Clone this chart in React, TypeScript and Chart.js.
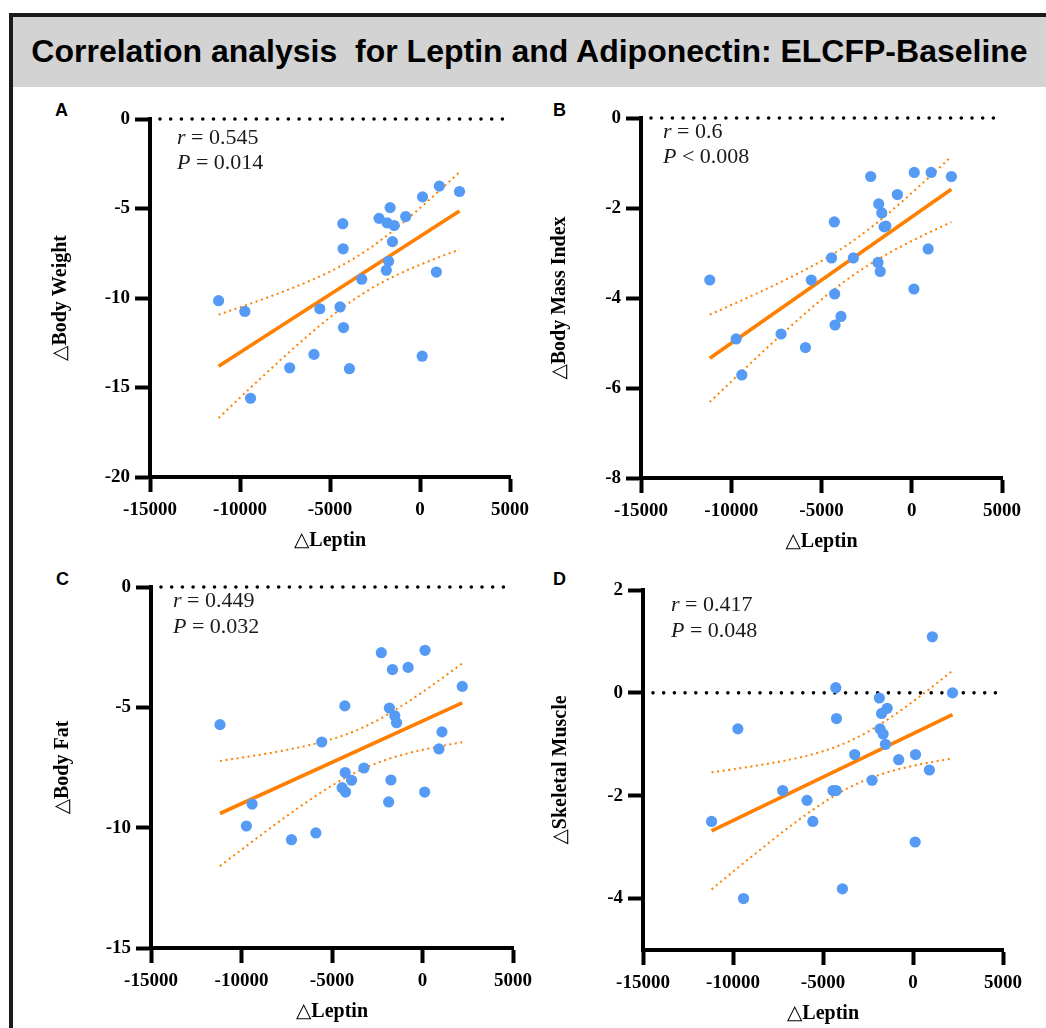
import React, { useEffect, useRef } from 'react';
import { Chart, registerables } from 'chart.js';

Chart.register(...registerables);

// ---- data ----
const leptin = [-11190, -9730, -9415, -7240, -5890, -5566, -4442, -4290, -4270, -4250, -3920, -3237, -2275, -1870, -1830, -1745, -1660, -1530, -1435, -795, 120, 140, 910, 1075, 2195];
const bodyWeight = [-10.15, -10.75, -15.6, -13.9, -13.15, -10.6, -10.5, -5.85, -7.25, -11.65, -13.95, -8.95, -5.55, -8.45, -5.8, -7.95, -4.95, -6.85, -5.95, -5.45, -13.25, -4.35, -8.55, -3.75, -4.05];
const bodyMassIndex = [-3.6, -4.91, -5.71, -4.8, -5.1, -3.6, -3.11, -2.31, -3.91, -4.6, -4.41, -3.11, -1.3, -3.21, -1.91, -3.41, -2.11, -2.42, -2.4, -1.7, -3.8, -1.21, -2.91, -1.21, -1.3];
const bodyFat = [-5.72, -9.93, -9.02, -10.5, -10.22, -6.44, -8.34, -4.94, -7.71, -8.52, -8.03, -7.52, -2.73, -8.93, -5.03, -8.02, -3.43, -5.35, -5.64, -3.34, -8.52, -2.63, -6.73, -6.02, -4.13];
const skeletalMuscle = [-2.5, -0.7, -4.0, -1.9, -2.09, -2.5, -1.9, 0.1, -1.9, -0.5, -3.81, -1.2, -1.7, -0.1, -0.7, -0.4, -0.8, -1.0, -0.3, -1.3, -2.9, -1.2, -1.5, 1.09, 0.0];

const leptinTicks = [-15000, -10000, -5000, 0, 5000];
const weightTicks = [0, -5, -10, -15, -20];
const bmiTicks = [0, -2, -4, -6, -8];
const fatTicks = [0, -5, -10, -15];
const muscleTicks = [2, 0, -2, -4];

const rTexts = ['0.545', '0.6', '0.449', '0.417'];
const pTexts = ['= 0.014', '< 0.008', '= 0.032', '= 0.048'];

const TITLE = 'Correlation analysis  for Leptin and Adiponectin: ELCFP-Baseline';

// ---- style ----
const BLUE = '#559BF5';
const ORANGE = '#FF7F00';
const SERIF = '"Liberation Serif", "Times New Roman", "DejaVu Serif", serif';
const SANS = '"Liberation Sans", Arial, Helvetica, sans-serif';
const T_CRIT = 2.0687; // t(0.975, df = 23)

const PAD_L = 110;
const PAD_T = 30;
const PAD_R = 40;
const PAD_B = 80;

interface PanelCfg {
  letter: string;
  yTitle: string;
  ys: number[];
  yMin: number;
  yMax: number;
  yTicks: number[];
  r: string;
  p: string;
  plot: { l: number; t: number; r: number; b: number };
  yTitlePad: number;
  ann: { dx: number; dy1: number; dy2: number };
  letterPos: { x: number; base: number };
}

const panels: PanelCfg[] = [
  {
    letter: 'A', yTitle: '\u25B3Body Weight', ys: bodyWeight, yMin: -20, yMax: 0, yTicks: weightTicks,
    r: rTexts[0], p: pTexts[0], plot: { l: 150, t: 119, r: 510, b: 477 }, yTitlePad: 9,
    ann: { dx: 27, dy1: 25, dy2: 50 }, letterPos: { x: 55, base: 116 },
  },
  {
    letter: 'B', yTitle: '\u25B3Body Mass Index', ys: bodyMassIndex, yMin: -8, yMax: 0, yTicks: bmiTicks,
    r: rTexts[1], p: pTexts[1], plot: { l: 641, t: 118, r: 1002, b: 478 }, yTitlePad: 17,
    ann: { dx: 22, dy1: 20, dy2: 45 }, letterPos: { x: 553, base: 116 },
  },
  {
    letter: 'C', yTitle: '\u25B3Body Fat', ys: bodyFat, yMin: -15, yMax: 0, yTicks: fatTicks,
    r: rTexts[2], p: pTexts[2], plot: { l: 151, t: 587, r: 513, b: 948 }, yTitlePad: 10,
    ann: { dx: 22, dy1: 20, dy2: 46 }, letterPos: { x: 56, base: 585 },
  },
  {
    letter: 'D', yTitle: '\u25B3Skeletal Muscle', ys: skeletalMuscle, yMin: -5, yMax: 2, yTicks: muscleTicks,
    r: rTexts[3], p: pTexts[3], plot: { l: 643, t: 590, r: 1003, b: 950 }, yTitlePad: 16,
    ann: { dx: 28, dy1: 21, dy2: 47 }, letterPos: { x: 553, base: 585 },
  },
];

function linearFit(xs: number[], ys: number[]) {
  const n = xs.length;
  const mx = xs.reduce((a, b) => a + b, 0) / n;
  const my = ys.reduce((a, b) => a + b, 0) / n;
  let sxx = 0;
  let sxy = 0;
  for (let i = 0; i < n; i++) {
    sxx += (xs[i] - mx) ** 2;
    sxy += (xs[i] - mx) * (ys[i] - my);
  }
  const slope = sxy / sxx;
  const intercept = my - slope * mx;
  let sse = 0;
  for (let i = 0; i < n; i++) sse += (ys[i] - (intercept + slope * xs[i])) ** 2;
  const s = Math.sqrt(sse / (n - 2));
  return { n, mx, sxx, slope, intercept, s };
}

function Panel({ cfg }: { cfg: PanelCfg }) {
  const ref = useRef<HTMLCanvasElement>(null);
  const w = cfg.plot.r - cfg.plot.l + PAD_L + PAD_R;
  const h = cfg.plot.b - cfg.plot.t + PAD_T + PAD_B;

  useEffect(() => {
    const fit = linearFit(leptin, cfg.ys);
    const xmin = Math.min(...leptin);
    const xmax = Math.max(...leptin);
    const line = [xmin, xmax].map((x) => ({ x, y: fit.intercept + fit.slope * x }));
    const steps = 48;
    const upper: { x: number; y: number }[] = [];
    const lower: { x: number; y: number }[] = [];
    for (let i = 0; i <= steps; i++) {
      const x = xmin + ((xmax - xmin) * i) / steps;
      const yh = fit.intercept + fit.slope * x;
      const half = T_CRIT * fit.s * Math.sqrt(1 / fit.n + (x - fit.mx) ** 2 / fit.sxx);
      upper.push({ x, y: yh + half });
      lower.push({ x, y: yh - half });
    }

    const zeroLine = {
      id: 'zeroLine',
      beforeDatasetsDraw(chart: any) {
        const { ctx, chartArea, scales } = chart;
        const y = scales.y.getPixelForValue(0);
        ctx.save();
        ctx.strokeStyle = '#000';
        ctx.lineWidth = 3.6;
        ctx.lineCap = 'round';
        ctx.setLineDash([0, 10.7]);
        ctx.beginPath();
        ctx.moveTo(chartArea.left + 10, y);
        ctx.lineTo(chartArea.right + 1, y);
        ctx.stroke();
        ctx.restore();
      },
    };

    const annotation = {
      id: 'annotation',
      afterDraw(chart: any) {
        const { ctx, chartArea } = chart;
        const x0 = chartArea.left + cfg.ann.dx;
        ctx.save();
        ctx.fillStyle = '#1a1a1a';
        ctx.textBaseline = 'alphabetic';
        ctx.textAlign = 'left';
        const drawLine = (sym: string, rest: string, base: number) => {
          ctx.font = `italic 22px ${SERIF}`;
          ctx.fillText(sym, x0, base);
          const wSym = ctx.measureText(sym).width;
          ctx.font = `22px ${SERIF}`;
          ctx.fillText(rest, x0 + wSym, base);
        };
        drawLine('r', ' = ' + cfg.r, chartArea.top + cfg.ann.dy1);
        drawLine('P', ' ' + cfg.p, chartArea.top + cfg.ann.dy2);
        ctx.restore();
      },
    };

    const chart = new Chart(ref.current!, {
      type: 'scatter',
      data: {
        datasets: [
          {
            type: 'scatter',
            data: leptin.map((x, i) => ({ x, y: cfg.ys[i] })),
            backgroundColor: BLUE,
            borderWidth: 0,
            pointRadius: 5.6,
            pointHoverRadius: 5.6,
            clip: false as any,
          },
          {
            type: 'line',
            data: line,
            borderColor: ORANGE,
            borderWidth: 3.6,
            pointRadius: 0,
            fill: false,
            clip: false as any,
          },
          {
            type: 'line',
            data: upper,
            borderColor: ORANGE,
            borderWidth: 2,
            borderDash: [2, 3.6],
            pointRadius: 0,
            fill: false,
            tension: 0,
            clip: false as any,
          },
          {
            type: 'line',
            data: lower,
            borderColor: ORANGE,
            borderWidth: 2,
            borderDash: [2, 3.6],
            pointRadius: 0,
            fill: false,
            tension: 0,
            clip: false as any,
          },
        ] as any,
      },
      options: {
        animation: false,
        responsive: false,
        devicePixelRatio: 1,
        events: [],
        layout: { padding: { left: 0, top: PAD_T, right: PAD_R, bottom: 0 } },
        plugins: { legend: { display: false }, tooltip: { enabled: false } },
        scales: {
          x: {
            type: 'linear',
            min: -15000,
            max: 5000,
            afterBuildTicks: (axis: any) => {
              axis.ticks = leptinTicks.map((v) => ({ value: v }));
            },
            afterFit: (axis: any) => {
              axis.height = PAD_B;
            },
            grid: { drawOnChartArea: false, drawTicks: true, tickLength: 15, tickWidth: 4, tickColor: '#000' },
            border: { display: true, color: '#000', width: 4 },
            ticks: {
              color: '#000',
              padding: 7,
              maxRotation: 0,
              autoSkip: false,
              font: { family: SERIF, size: 19, weight: 'bold', lineHeight: 1.2 },
              callback: (v: any) => String(v),
            },
            title: {
              display: true,
              text: '\u25B3Leptin',
              color: '#000',
              padding: { top: 0, bottom: 4 },
              font: { family: SERIF, size: 20, weight: 'bold', lineHeight: 1.2 },
            },
          },
          y: {
            type: 'linear',
            min: cfg.yMin,
            max: cfg.yMax,
            afterBuildTicks: (axis: any) => {
              axis.ticks = cfg.yTicks.map((v) => ({ value: v }));
            },
            afterFit: (axis: any) => {
              axis.width = PAD_L;
            },
            grid: { drawOnChartArea: false, drawTicks: true, tickLength: 15, tickWidth: 4, tickColor: '#000' },
            border: { display: true, color: '#000', width: 4 },
            ticks: {
              color: '#000',
              padding: 5,
              autoSkip: false,
              font: { family: SERIF, size: 19, weight: 'bold', lineHeight: 1.2 },
              callback: (v: any) => String(v),
            },
            title: {
              display: true,
              text: cfg.yTitle,
              color: '#000',
              padding: { top: cfg.yTitlePad, bottom: 0 },
              font: { family: SERIF, size: 20, weight: 'bold', lineHeight: 1.2 },
            },
          },
        },
      } as any,
      plugins: [zeroLine, annotation],
    });
    return () => chart.destroy();
  }, [cfg]);

  return (
    <canvas
      ref={ref}
      width={w}
      height={h}
      style={{ position: 'absolute', left: cfg.plot.l - PAD_L, top: cfg.plot.t - PAD_T, width: w, height: h }}
    />
  );
}

export default function App() {
  return (
    <div style={{ position: 'absolute', left: 0, top: 0, width: 1046, height: 1028, background: '#fff', overflow: 'hidden' }}>
      <div style={{ position: 'absolute', left: 9, top: 13, width: 1037, height: 3.5, background: '#1a1a1a' }} />
      <div style={{ position: 'absolute', left: 9, top: 13, width: 4.3, height: 1015, background: '#1a1a1a' }} />
      <div style={{ position: 'absolute', left: 13.3, top: 16.5, width: 1033, height: 70.5, background: '#d3d3d3' }} />
      <div
        style={{
          position: 'absolute', left: 13, top: 35, width: 1033, textAlign: 'center', whiteSpace: 'pre',
          font: `bold 32px ${SANS}`, lineHeight: '32px', color: '#000',
        }}
      >
        {TITLE}
      </div>
      {panels.map((p) => (
        <div
          key={p.letter}
          style={{
            position: 'absolute', left: p.letterPos.x, top: p.letterPos.base - 15.2,
            font: `bold 18px ${SANS}`, lineHeight: '18px', color: '#000',
          }}
        >
          {p.letter}
        </div>
      ))}
      {panels.map((p) => (
        <Panel key={p.letter} cfg={p} />
      ))}
    </div>
  );
}
